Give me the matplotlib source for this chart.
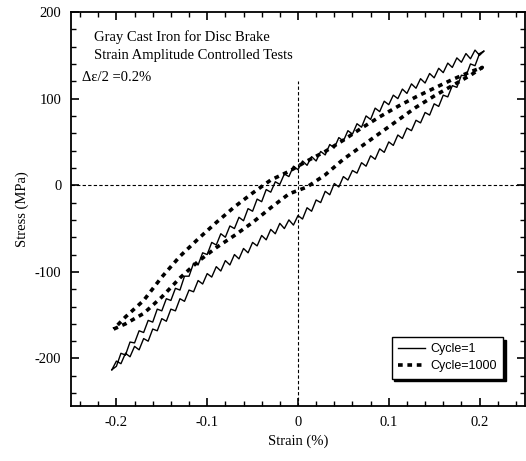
import matplotlib
matplotlib.use('Agg')
import matplotlib.pyplot as plt
from matplotlib.ticker import MultipleLocator

# Strain readings for the cycle 1 trace (%), from min to max
c1_strain = [-0.205, -0.200, -0.195, -0.190, -0.185, -0.180, -0.175, -0.170, -0.165, -0.160,
             -0.155, -0.150, -0.145, -0.140, -0.135, -0.130, -0.125, -0.120, -0.115, -0.110,
             -0.105, -0.100, -0.095, -0.090, -0.085, -0.080, -0.075, -0.070, -0.065, -0.060,
             -0.055, -0.050, -0.045, -0.040, -0.035, -0.030, -0.025, -0.020, -0.015, -0.010,
             -0.005, 0.000, 0.005, 0.010, 0.015, 0.020, 0.025, 0.030, 0.035, 0.040,
             0.045, 0.050, 0.055, 0.060, 0.065, 0.070, 0.075, 0.080, 0.085, 0.090,
             0.095, 0.100, 0.105, 0.110, 0.115, 0.120, 0.125, 0.130, 0.135, 0.140,
             0.145, 0.150, 0.155, 0.160, 0.165, 0.170, 0.175, 0.180, 0.185, 0.190,
             0.195, 0.200, 0.205]

# Cycle 1 (solid), loading branch stress (MPa), same order as c1_strain
c1_load_stress = [-213, -203, -206, -194, -198, -186, -190, -177, -180, -166,
                  -168, -154, -157, -143, -145, -131, -134, -121, -123, -110,
                  -114, -102, -106, -94, -99, -87, -92, -80, -85, -73,
                  -78, -66, -70, -58, -63, -51, -56, -44, -50, -40,
                  -46, -35, -39, -26, -30, -17, -20, -7, -11, 2,
                  -2, 10, 6, 17, 14, 26, 22, 34, 30, 42,
                  38, 50, 46, 58, 54, 66, 63, 75, 72, 84,
                  81, 94, 91, 104, 102, 115, 113, 127, 126, 140,
                  138, 152, 155]

# Cycle 1 (solid), unloading branch stress (MPa), from max back to min
c1_unload_stress = [155, 150, 156, 146, 152, 142, 147, 136, 141, 130,
                    135, 124, 129, 118, 123, 112, 117, 106, 111, 100,
                    104, 93, 97, 85, 89, 76, 80, 67, 71, 59,
                    63, 51, 55, 43, 47, 35, 39, 28, 33, 23,
                    28, 18, 22, 10, 13, 1, 4, -8, -5, -19,
                    -16, -30, -27, -41, -37, -50, -47, -60, -56, -69,
                    -66, -80, -78, -92, -90, -105, -105, -121, -119, -133,
                    -131, -145, -143, -158, -156, -170, -168, -182, -181, -196,
                    -194, -209, -213]

# Cycle 1000 (dashed), loading branch: min -> max
c1000_load_strain = [-0.203, -0.19, -0.17, -0.15, -0.13, -0.11, -0.09, -0.07, -0.05, -0.03, -0.01,
                     0.01, 0.03, 0.05, 0.07, 0.09, 0.11, 0.13, 0.15, 0.17, 0.19, 0.203]
c1000_load_stress = [-166, -160, -148, -129, -107, -88, -72, -58, -43, -26, -10,
                     -2, 12, 30, 45, 60, 75, 90, 103, 115, 127, 136]

# Cycle 1000 (dashed), unloading branch: max -> min
c1000_unload_strain = [0.203, 0.19, 0.17, 0.15, 0.13, 0.11, 0.09, 0.07, 0.05, 0.03, 0.01,
                       -0.01, -0.03, -0.05, -0.07, -0.09, -0.11, -0.13, -0.15, -0.17, -0.19, -0.203]
c1000_unload_stress = [136, 131, 122, 112, 102, 91, 79, 66, 52, 39, 28,
                       16, 6, -9, -25, -43, -62, -82, -106, -133, -152, -166]

plt.rcParams['font.family'] = 'Liberation Serif'

fig = plt.figure(figsize=(5.26, 4.61), dpi=100)
ax = fig.add_axes([0.135, 0.119, 0.863, 0.855])

# Reference lines through the origin
ax.axhline(0, color='black', lw=0.8, ls=(0, (3, 2)))
ax.plot([0, 0], [-255, 120], color='black', lw=0.8, ls=(0, (3, 2)))

ax.plot(c1_strain + c1_strain[::-1], c1_load_stress + c1_unload_stress,
        color='black', lw=1.0, label='Cycle=1')
ax.plot(c1000_load_strain + c1000_unload_strain, c1000_load_stress + c1000_unload_stress,
        color='black', lw=2.6, ls=(0, (1.3, 1.3)), label='Cycle=1000')

ax.set_xlim(-0.25, 0.25)
ax.set_ylim(-255, 200)
ax.xaxis.set_minor_locator(MultipleLocator(0.02))
ax.yaxis.set_minor_locator(MultipleLocator(20))
ax.set_xticks([-0.2, -0.1, 0, 0.1, 0.2])
ax.set_xticklabels(['-0.2', '-0.1', '0', '0.1', '0.2'])
ax.set_yticks([-200, -100, 0, 100, 200])
ax.set_yticklabels(['-200', '-100', '0', '100', '200'])
ax.tick_params(which='both', direction='in', top=True, right=True, labelsize=10.5)
ax.tick_params(which='major', length=6, width=1.2, pad=7)
ax.tick_params(which='minor', length=3.5, width=1.0)
for s in ax.spines.values():
    s.set_linewidth(1.3)

ax.set_xlabel('Strain (%)', fontsize=10.5)
ax.set_ylabel('Stress (MPa)', fontsize=10.5)

ax.text(0.05, 0.955, 'Gray Cast Iron for Disc Brake', transform=ax.transAxes,
        fontsize=10.5, va='top')
ax.text(0.05, 0.905, 'Strain Amplitude Controlled Tests', transform=ax.transAxes,
        fontsize=10.5, va='top')
ax.text(0.025, 0.85, 'Δε/2 =0.2%', transform=ax.transAxes,
        fontsize=10.5, va='top')

leg = ax.legend(loc='lower right', bbox_to_anchor=(0.952, 0.07), fancybox=False,
                edgecolor='black', prop={'family': 'Liberation Sans', 'size': 9},
                handlelength=2.2, handletextpad=0.4, borderpad=0.5, labelspacing=0.4,
                borderaxespad=0, shadow={'color': 'black', 'alpha': 1})
leg.get_frame().set_linewidth(1.0)

fig.savefig('out.png', dpi=100)
